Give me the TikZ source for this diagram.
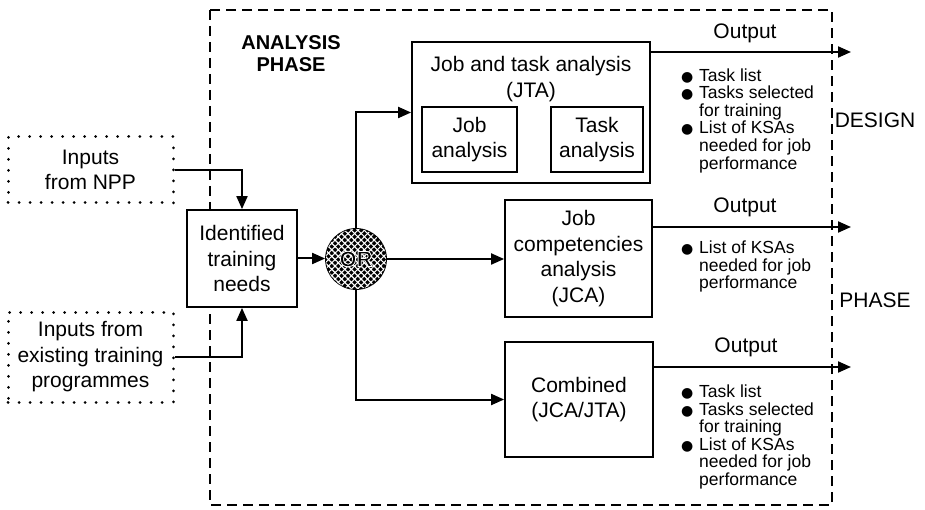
\documentclass[tikz,border=0pt]{standalone}
\usepackage{fontspec}
\setmainfont{Liberation Sans}
\newfontfamily\dejavu{DejaVu Sans}
\usetikzlibrary{arrows.meta,patterns.meta,calc}
\newcommand\mainfs{\fontsize{21}{25.5}\selectfont}
\newcommand\smallfs{\fontsize{17.5}{17.6}\selectfont}
\newcommand\bul{\makebox[18pt][l]{\dejavu\fontsize{14}{14}\selectfont ●}}
\newcommand\ind{\hspace*{18pt}}
\newcommand\orhalo[1]{\special{pdf:literal direct 2 Tr 1 G 0.85 w}#1\special{pdf:literal direct 0 Tr 0 G}}
\begin{document}
\begin{tikzpicture}[x=1pt,y=-1pt,
  box/.style={draw, fill=white, line width=1.8pt, inner sep=0pt, align=center, font=\mainfs},
  dotbox/.style={draw, fill=white, line width=3pt, dash pattern=on 0.01pt off 11pt, line cap=round, inner sep=0pt, align=center, font=\mainfs},
  dashbox/.style={draw, line width=1.8pt, dash pattern=on 10pt off 6pt},
  conn/.style={line width=2pt, -{Triangle[length=13pt,width=11pt]}},
  blist/.style={align=left, inner sep=0pt, font=\smallfs, anchor=west},
  lbl/.style={font=\mainfs, align=center, inner sep=0pt},
  orc/.style={circle, draw, line width=1.8pt, minimum size=60pt, inner sep=0pt, fill=black,
    postaction={pattern={Lines[angle=45,distance=4.6pt,line width=1.1pt]}, pattern color=white},
    postaction={pattern={Lines[angle=-45,distance=4.6pt,line width=1.1pt]}, pattern color=white}}
]
\useasboundingbox (0,0) rectangle (925,510);
\fill[white] (0,0) rectangle (925,510);

% outer dashed phase box
\draw[dashbox] (210,10) rectangle (832,505);

\node[lbl, font=\bfseries\fontsize{20}{22}\selectfont] (ap) at (291,54) {ANALYSIS\\PHASE};

% inputs
\node[dotbox, minimum width=165pt, minimum height=66pt] (npp) at (90.5,170) {Inputs\\from NPP};
\node[dotbox, minimum width=165pt, minimum height=90pt] (exist) at (90.5,357) {Inputs from\\existing training\\programmes};

% main boxes
\node[box, minimum width=110pt, minimum height=97pt] (itn) at (242,258.5) {Identified\\training\\needs};
\node[orc] (or) at (356,259) {};

\node[box, minimum width=238pt, minimum height=141pt] (jta) at (531,112.5) {};
\node[lbl] (jtat) at (531,79) {Job and task analysis\\(JTA)};
\node[box, minimum width=95pt, minimum height=65pt] (ja) at (469.5,139.5) {Job\\analysis};
\node[box, minimum width=92pt, minimum height=65pt] (ta) at (597,139.5) {Task\\analysis};

\node[box, minimum width=147pt, minimum height=117pt] (jca) at (578.5,258.5) {Job\\competencies\\analysis\\(JCA)};
\node[box, minimum width=148pt, minimum height=115pt] (comb) at (579,399.5) {Combined\\(JCA/JTA)};

% connectors
\draw[conn] (npp.east) -| (itn.north);
\draw[conn] (exist.east) -| (itn.south);
\draw[conn] (itn.east) -- (itn.east -| or.west);
\draw[conn] (or.north) |- (jta.west);
\draw[conn] (or.east) -- (or.east -| jca.west);
\draw[conn] (or.south) |- (comb.west);

% outputs
\coordinate (o1) at (851,52);
\coordinate (o2) at (851,227);
\coordinate (o3) at (851,367);
\draw[conn] (jta.east |- o1) -- (o1);
\draw[conn] (jca.east |- o2) -- (o2);
\draw[conn] (comb.east |- o3) -- (o3);

\node[lbl] (out1) at (745,33) {Output};
\node[lbl] (out2) at (745,207) {Output};
\node[lbl] (out3) at (746,347) {Output};

\node[blist] (l1) at (681,120.5) {\bul Task list\\\bul Tasks selected\\\ind for training\\\bul List of KSAs\\\ind needed for job\\\ind performance};
\node[blist] (l2) at (681,266.5) {\bul List of KSAs\\\ind needed for job\\\ind performance};
\node[blist] (l3) at (681,437) {\bul Task list\\\bul Tasks selected\\\ind for training\\\bul List of KSAs\\\ind needed for job\\\ind performance};

\node[lbl] (design) at (875,120) {DESIGN};
\node[lbl] (phase) at (875,300) {PHASE};

\node[inner sep=0pt, font=\bfseries\fontsize{22}{22}\selectfont] (ort) at (or) {\orhalo{OR}};
\end{tikzpicture}
\end{document}
